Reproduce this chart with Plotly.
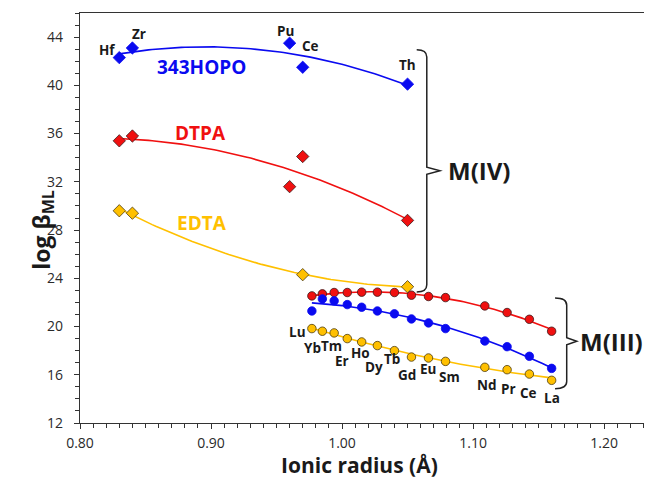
import numpy as np
import plotly.graph_objects as go

# ---------------- data ----------------
m4_names = ["Hf", "Zr", "Pu", "Ce", "Th"]
m4_radius = [0.83, 0.84, 0.96, 0.97, 1.05]
hopo_m4 = [42.3, 43.1, 43.5, 41.5, 40.1]
dtpa_m4 = [35.4, 35.8, 31.6, 34.1, 28.8]
edta_m4_radius = [0.83, 0.84, 0.97, 1.05]
edta_m4 = [29.6, 29.4, 24.3, 23.3]

ln_names = ["Lu", "Yb", "Tm", "Er", "Ho", "Dy", "Tb", "Gd", "Eu", "Sm", "Nd", "Pr", "Ce", "La"]
ln_radius = [0.977, 0.985, 0.994, 1.004, 1.015, 1.027, 1.040, 1.053, 1.066, 1.079,
             1.109, 1.126, 1.143, 1.160]
dtpa_m3 = [22.54, 22.71, 22.82, 22.82, 22.85, 22.85, 22.82, 22.60, 22.49, 22.40,
           21.71, 21.16, 20.60, 19.61]
hopo_m3 = [21.29, 22.29, 22.13, 21.82, 21.60, 21.29, 21.05, 20.63, 20.30, 19.83,
           18.80, 18.33, 17.53, 16.53]
edta_m3 = [19.83, 19.61, 19.47, 19.00, 18.72, 18.42, 18.00, 17.47, 17.39, 17.11,
           16.62, 16.42, 16.06, 15.54]

x_ticks = [0.80, 0.90, 1.00, 1.10, 1.20]
y_ticks = [12, 16, 20, 24, 28, 32, 36, 40, 44]

# ---------------- styles ----------------
BLUE = "#0A0AF0"
RED = "#F01010"
GOLD = "#FFC000"
FONT = "Open Sans"
DARK = "#1a1a1a"

# pixel offsets of element labels relative to their points
m4_label_shift = [(-12, 8), (7, 14), (-4, 12), (8, 21), (0, 19)]
ln_label_shift = [(-14, -3), (-10, -17), (-3, -13), (-5, -22), (-1, -11), (-3, -21),
                  (-2, -8), (-4, -18), (0, -11), (4, -16), (2, -18), (1, -19),
                  (-1, -19), (0, -18)]


def trend(x, y, n=80):
    c = np.polyfit(x, y, 2)
    xs = np.linspace(min(x), max(x), n)
    return xs, np.polyval(c, xs)


fig = go.Figure()

series = [
    (m4_radius, hopo_m4, BLUE, "diamond", None),
    (m4_radius, dtpa_m4, RED, "diamond", "#3a1a1a"),
    (edta_m4_radius, edta_m4, GOLD, "diamond", "#4a3a10"),
    (ln_radius, dtpa_m3, RED, "circle", "#3a1a1a"),
    (ln_radius, hopo_m3, BLUE, "circle", None),
    (ln_radius, edta_m3, GOLD, "circle", "#4a3a10"),
]

# trendlines first
for x, y, col, sym, oc in series:
    xs, ys = trend(x, y)
    fig.add_trace(go.Scatter(x=xs, y=ys, mode="lines",
                             line=dict(color=col, width=1.6),
                             hoverinfo="skip", showlegend=False))

# markers
for x, y, col, sym, oc in series:
    size = 9.5 if sym == "diamond" else 8.5
    fig.add_trace(go.Scatter(
        x=x, y=y, mode="markers",
        marker=dict(symbol=sym, size=size, color=col,
                    line=dict(color=oc if oc else col, width=0.8)),
        showlegend=False))

annotations = []
lab_font = dict(family=FONT, size=13.5, color=DARK)
for name, xr, yv, (dx, dy) in zip(m4_names, m4_radius, hopo_m4, m4_label_shift):
    annotations.append(dict(x=xr, y=yv, xref="x", yref="y", text="<b>%s</b>" % name,
                            showarrow=False, xshift=dx, yshift=dy, font=lab_font))
for name, xr, yv, (dx, dy) in zip(ln_names, ln_radius, edta_m3, ln_label_shift):
    annotations.append(dict(x=xr, y=yv, xref="x", yref="y", text="<b>%s</b>" % name,
                            showarrow=False, xshift=dx, yshift=dy, font=lab_font))

# series names
annotations += [
    dict(x=0.8931, y=41.53, xref="x", yref="y", text="<b>343HOPO</b>", showarrow=False,
         font=dict(family=FONT, size=19, color=BLUE)),
    dict(x=0.8916, y=36.05, xref="x", yref="y", text="<b>DTPA</b>", showarrow=False,
         font=dict(family=FONT, size=19, color=RED)),
    dict(x=0.8931, y=28.58, xref="x", yref="y", text="<b>EDTA</b>", showarrow=False,
         font=dict(family=FONT, size=19, color=GOLD)),
    dict(x=1.1046, y=32.92, xref="x", yref="y", text="<b>M(IV)</b>", showarrow=False,
         font=dict(family=FONT, size=24, color=DARK)),
    dict(x=1.2059, y=18.78, xref="x", yref="y", text="<b>M(III)</b>", showarrow=False,
         font=dict(family=FONT, size=24, color=DARK)),
    dict(x=-0.101, y=28.0, xref="paper", yref="y", text="<b>log β<sub>ML</sub></b>",
         showarrow=False, textangle=-90, font=dict(family=FONT, size=23, color=DARK)),
    dict(x=0.4878, y=-0.103, xref="paper", yref="paper", text="<b>Ionic radius (Å)</b>",
         showarrow=False, yanchor="middle", font=dict(family=FONT, size=21, color=DARK)),
]


def brace(xl, xv, xr, yt, ym, yb, dy):
    return ("M %f,%f Q %f,%f %f,%f L %f,%f L %f,%f L %f,%f L %f,%f Q %f,%f %f,%f" % (
        xl, yt, xv, yt, xv, yt - dy, xv, ym + dy * 0.5, xr, ym, xv, ym - dy * 0.5,
        xv, yb + dy, xv, yb, xl, yb))


shapes = [
    dict(type="path", xref="x", yref="y",
         path=brace(1.0570, 1.0647, 1.0748, 42.95, 32.92, 22.87, 0.6),
         line=dict(color="#222222", width=1.5)),
    dict(type="path", xref="x", yref="y",
         path=brace(1.1626, 1.1715, 1.1792, 22.37, 18.78, 14.85, 0.6),
         line=dict(color="#222222", width=1.5)),
]

# the page adds an 8 px body margin, so the figure is 8 px smaller and shifted
fig.update_layout(
    width=644, height=473,
    margin=dict(l=72, r=0, t=5, b=58),
    paper_bgcolor="white", plot_bgcolor="white",
    annotations=annotations, shapes=shapes,
    font=dict(family=FONT, color="#333333"),
)

fig.update_xaxes(
    range=[0.80, 1.2366], tickvals=x_ticks, ticktext=["%.2f" % v for v in x_ticks],
    showgrid=False, zeroline=False, showline=True, linecolor="#333333", linewidth=1.3,
    mirror=True, ticks="outside", ticklen=5, tickcolor="#333333", tickwidth=1,
    tickfont=dict(family=FONT, size=14, color="#2a2a2a"), ticklabelstandoff=2,
    minor=dict(dtick=0.01, tick0=0.8, ticks="outside", ticklen=4, tickcolor="#333333"),
)
fig.update_yaxes(
    range=[12, 46], tickvals=y_ticks,
    showgrid=False, zeroline=False, showline=True, linecolor="#333333", linewidth=1.3,
    ticks="outside", ticklen=5, tickcolor="#333333", tickwidth=1,
    tickfont=dict(family=FONT, size=14, color="#2a2a2a"), ticklabelstandoff=8,
    minor=dict(dtick=1, tick0=12, ticks="outside", ticklen=4, tickcolor="#333333"),
)

fig.write_html("out.html")
